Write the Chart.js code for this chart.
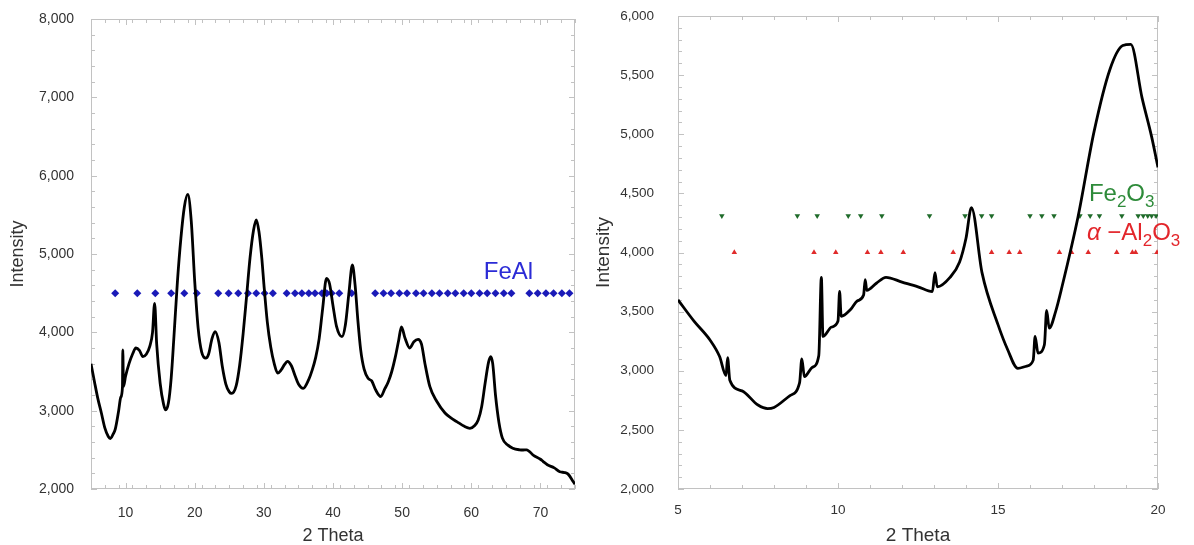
<!DOCTYPE html>
<html><head><meta charset="utf-8">
<script src="https://cdn.jsdelivr.net/npm/chart.js@4.4.1/dist/chart.umd.min.js"></script>
<style>
html,body{margin:0;padding:0;background:#fff;width:1194px;height:545px;overflow:hidden;}
#l{position:absolute;left:0;top:0;width:590px;height:545px;}
#r{position:absolute;left:590px;top:0;width:604px;height:545px;}
</style></head><body>
<div id="l"><canvas id="cl"></canvas></div>
<div id="r"><canvas id="cr"></canvas></div>
<script>
// ---------- Left panel data ----------
const leftTheta = [5,5.5,6,6.5,7,7.5,7.8,8.2,8.5,9,9.3,9.55,9.6,9.7,10,10.5,11,11.5,12,12.5,13,13.5,13.9,14.2,14.5,15,15.5,15.8,16.2,16.6,17,17.5,18,18.5,19,19.5,20,20.5,21,21.6,22,22.5,22.95,23.5,24,24.5,25,25.35,26,26.5,27,27.5,28,28.5,28.9,29.3,29.7,30,30.5,31,31.5,32,32.5,33,33.4,34,34.5,35,35.7,36.5,37,37.5,38,38.5,39.06,39.5,40,40.5,41.3,41.8,42.3,42.8,43.2,43.6,44,44.5,45.1,45.6,46.2,46.9,47.5,48,48.5,49,49.5,49.9,50.4,51.1,51.7,52.3,52.8,53.3,54,55,56.2,57,57.9,59,59.8,60.5,61,61.5,62,62.5,62.8,63.1,63.5,64,64.5,65.3,66,67,67.5,68,69,70,70.4,71,72,72.8,73.5,74,74.7,75];
const leftIntensity = [3600,3370,3150,2970,2780,2670,2645,2700,2760,3000,3170,3300,3775,3310,3440,3600,3720,3800,3770,3690,3720,3820,4000,4370,3850,3350,3080,3010,3100,3420,3950,4650,5200,5600,5760,5420,4650,4050,3750,3670,3720,3920,4010,3870,3560,3340,3240,3220,3320,3580,3980,4460,4950,5300,5435,5280,4950,4620,4130,3810,3600,3480,3520,3590,3630,3570,3450,3340,3285,3400,3520,3680,3920,4300,4690,4620,4340,4080,3945,4100,4500,4860,4600,4150,3780,3530,3410,3380,3260,3180,3280,3370,3500,3680,3900,4070,3930,3800,3880,3910,3850,3600,3310,3120,2970,2910,2860,2800,2775,2810,2880,3050,3350,3620,3690,3600,3200,2850,2650,2560,2520,2500,2498,2500,2430,2380,2350,2310,2270,2220,2210,2190,2100,2060];
const feAlTheta = [8.5,11.7,14.3,16.6,18.5,20.3,23.4,24.9,26.3,27.7,28.9,30.1,31.3,33.3,34.5,35.5,36.5,37.4,38.4,39.1,39.8,40.9,42.7,46.1,47.3,48.4,49.6,50.7,52.0,53.1,54.3,55.4,56.6,57.7,58.9,60.0,61.2,62.3,63.5,64.7,65.8,68.4,69.6,70.8,71.9,73.1,74.2];
const feAlLevel = 4500;
const leftXTicks = [10,20,30,40,50,60,70];
const leftYTicks = [2000,3000,4000,5000,6000,7000,8000];

// ---------- Right panel data ----------
const rightTheta = [5,5.5,6,6.3,6.5,6.55,6.62,7,7.5,7.8,8,8.5,8.8,8.87,8.95,9.2,9.4,9.48,9.53,9.8,10.0,10.05,10.1,10.4,10.6,10.8,10.85,10.9,11.2,11.5,12,12.5,12.95,13.03,13.1,13.5,13.8,14.0,14.17,14.5,15,15.3,15.62,15.9,16.1,16.16,16.25,16.45,16.52,16.6,16.8,17,17.5,18,18.5,18.9,19.15,19.5,19.8,20];
const rightIntensity = [3600,3420,3260,3120,2960,3110,2920,2830,2710,2680,2690,2790,2900,3100,2950,3030,3130,3790,3290,3370,3420,3670,3460,3520,3590,3640,3770,3680,3740,3790,3750,3710,3670,3830,3710,3790,3920,4120,4380,3830,3390,3180,3020,3040,3090,3290,3150,3220,3510,3360,3500,3710,4300,5020,5550,5750,5760,5310,4980,4720];
const fe2o3Theta = [6.37,8.73,9.35,10.32,10.71,11.37,12.86,13.97,14.49,14.80,16.0,16.37,16.75,17.56,17.88,18.17,18.87,19.38,19.54,19.68,19.8,19.94];
const fe2o3Level = 4310;
const al2o3Theta = [6.76,9.25,9.93,10.92,11.34,12.04,13.60,14.80,15.35,15.68,16.92,17.3,17.82,18.71,19.2,19.3,19.97];
const al2o3Level = 4000;
const rightXTicks = [5,10,15,20];
const rightYTicks = [2000,2500,3000,3500,4000,4500,5000,5500,6000];

// ---------- helpers ----------
const FONT = '"Liberation Sans", Arial, Helvetica, sans-serif';
const pts = (xs, ys) => xs.map((v, i) => ({x: v, y: ys[i]}));
const lvl = (xs, level) => xs.map(v => ({x: v, y: level}));
const fmt = v => Number(v).toLocaleString('en-US');

const framePlugin = {
  id: 'frame',
  beforeDatasetsDraw(chart, args, o) {
    const {ctx, chartArea: a, scales: {x, y}} = chart;
    ctx.save();
    ctx.strokeStyle = '#c2c2c2';
    ctx.lineWidth = 1;
    ctx.strokeRect(Math.round(a.left) + 0.5, Math.round(a.top) + 0.5,
                   Math.round(a.right - a.left) - 1, Math.round(a.bottom - a.top) - 1);
    ctx.beginPath();
    const tx = (v, len) => {
      const p = Math.round(x.getPixelForValue(v)) + 0.5;
      ctx.moveTo(p, a.bottom); ctx.lineTo(p, a.bottom - len);
      ctx.moveTo(p, a.top); ctx.lineTo(p, a.top + len);
    };
    const ty = (v, len) => {
      const p = Math.round(y.getPixelForValue(v)) + 0.5;
      ctx.moveTo(a.left, p); ctx.lineTo(a.left + len, p);
      ctx.moveTo(a.right, p); ctx.lineTo(a.right - len, p);
    };
    for (let v = x.min; v <= x.max + 1e-9; v += o.xMinor) tx(v, 4);
    for (let v = y.min; v <= y.max + 1e-9; v += o.yMinor) ty(v, 4);
    o.xMajor.forEach(v => tx(v, 6));
    o.yMajor.forEach(v => ty(v, 6));
    ctx.stroke();
    ctx.restore();
  }
};

const labelPlugin = {
  id: 'chemLabels',
  afterDatasetsDraw(chart, args, o) {
    const {ctx, scales: {x, y}} = chart;
    (o.items || []).forEach(it => {
      let px = x.getPixelForValue(it.x);
      const py = y.getPixelForValue(it.y);
      ctx.save();
      ctx.fillStyle = it.color;
      ctx.textAlign = 'left';
      ctx.textBaseline = 'alphabetic';
      it.parts.forEach(p => {
        const size = p.sub ? Math.round(it.size * 0.7) : it.size;
        ctx.font = (p.italic ? 'italic ' : '') + size + 'px ' + FONT;
        ctx.fillText(p.t, px, py + (p.sub ? it.size * 0.25 : 0));
        px += ctx.measureText(p.t).width;
      });
      ctx.restore();
    });
  }
};

function makeChart(id, cfg) {
  return new Chart(document.getElementById(id), {
    type: 'line',
    data: { datasets: cfg.datasets },
    options: {
      responsive: true, maintainAspectRatio: false, animation: false,
      layout: { padding: cfg.padding },
      plugins: { legend: { display: false }, tooltip: { enabled: false },
        frame: cfg.frame, chemLabels: { items: cfg.labels } },
      scales: {
        x: {
          type: 'linear', min: cfg.xMin, max: cfg.xMax,
          afterBuildTicks: s => { s.ticks = cfg.xTicks.map(v => ({value: v})); },
          afterFit: s => { s.height = cfg.xHeight; s.paddingLeft = 0; s.paddingRight = 0; },
          grid: { display: false, drawTicks: false }, border: { display: false },
          ticks: { color: '#333', font: { family: FONT, size: cfg.tickSize }, padding: cfg.xPad, maxRotation: 0,
                   callback: v => String(v) },
          title: { display: true, text: '2 Theta', color: '#333',
                   font: { family: FONT, size: cfg.titleSize, lineHeight: 1 }, padding: { top: 0, bottom: 0 } }
        },
        y: {
          type: 'linear', min: cfg.yMin, max: cfg.yMax,
          afterBuildTicks: s => { s.ticks = cfg.yTicks.map(v => ({value: v})); },
          afterFit: s => { s.width = cfg.yWidth; s.paddingTop = 0; s.paddingBottom = 0; },
          grid: { display: false, drawTicks: false }, border: { display: false },
          ticks: { color: '#333', font: { family: FONT, size: cfg.tickSize }, padding: cfg.yPad, callback: v => fmt(v) },
          title: { display: true, text: 'Intensity', color: '#333',
                   font: { family: FONT, size: cfg.titleSize, lineHeight: 1 }, padding: { top: cfg.yTitlePad, bottom: 0 } }
        }
      }
    },
    plugins: [framePlugin, labelPlugin]
  });
}

const curveStyle = { borderColor: '#000', borderWidth: 2.8, pointRadius: 0, tension: 0, fill: false,
                     cubicInterpolationMode: 'monotone' };

makeChart('cl', {
  padding: { top: 19, right: 15, left: 0, bottom: 0 },
  xMin: 5, xMax: 75, yMin: 2000, yMax: 8000,
  xTicks: leftXTicks, yTicks: leftYTicks,
  xHeight: 56, yWidth: 91, yPad: 17, xPad: 16, tickSize: 14, yTitlePad: 9, titleSize: 18,
  frame: { xMinor: 2, yMinor: 200, xMajor: leftXTicks, yMajor: leftYTicks },
  labels: [
    { x: 61.8, y: 4680, color: '#2b2bd6', size: 24, parts: [{t: 'FeAl'}] }
  ],
  datasets: [
    Object.assign({ label: 'XRD', data: pts(leftTheta, leftIntensity) }, curveStyle),
    { label: 'FeAl', data: lvl(feAlTheta, feAlLevel), showLine: false,
      pointStyle: 'rectRot', pointRadius: 4, backgroundColor: '#1a1ab8', borderColor: '#1a1ab8', borderWidth: 0 }
  ]
});

makeChart('cr', {
  padding: { top: 16, right: 36, left: 0, bottom: 0 },
  xMin: 5, xMax: 20, yMin: 2000, yMax: 6000,
  xTicks: rightXTicks, yTicks: rightYTicks,
  xHeight: 56, yWidth: 88, yPad: 24, xPad: 13, tickSize: 13.5, yTitlePad: 4, titleSize: 19,
  frame: { xMinor: 1, yMinor: 100, xMajor: rightXTicks, yMajor: rightYTicks },
  labels: [
    { x: 17.84, y: 4436, color: '#2e8b3a', size: 24, parts: [{t: 'Fe'}, {t: '2', sub: true}, {t: 'O'}, {t: '3', sub: true}] },
    { x: 17.78, y: 4106, color: '#e3262b', size: 24, parts: [{t: 'α', italic: true}, {t: ' −Al'}, {t: '2', sub: true}, {t: 'O'}, {t: '3', sub: true}] }
  ],
  datasets: [
    Object.assign({ label: 'XRD', data: pts(rightTheta, rightIntensity) }, curveStyle),
    { label: 'Fe2O3', data: lvl(fe2o3Theta, fe2o3Level), showLine: false,
      pointStyle: 'triangle', rotation: 180, pointRadius: 3.2, backgroundColor: '#1f6b2a', borderColor: '#1f6b2a', borderWidth: 0 },
    { label: 'Al2O3', data: lvl(al2o3Theta, al2o3Level), showLine: false,
      pointStyle: 'triangle', pointRadius: 3.2, backgroundColor: '#e02a2a', borderColor: '#e02a2a', borderWidth: 0 }
  ]
});
</script>
</body></html>
